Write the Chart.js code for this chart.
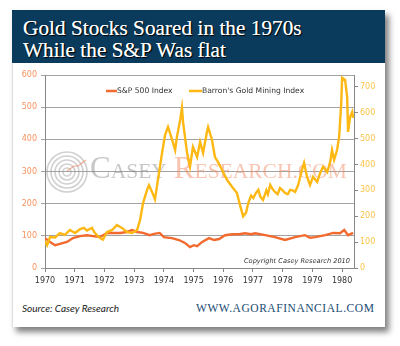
<!DOCTYPE html>
<html><head><meta charset="utf-8">
<script src="https://cdn.jsdelivr.net/npm/chart.js@4/dist/chart.umd.min.js"></script>
<style>
html,body{margin:0;padding:0;background:#fff;width:400px;height:346px;overflow:hidden}
#card{position:absolute;left:12px;top:10px;width:373px;height:317px;background:#fff;box-shadow:4px 5px 6px rgba(0,0,0,0.5);border-left:1px solid #ddd;box-sizing:border-box}
#banner{position:absolute;left:12px;top:10px;width:373px;height:53px;background:#0a3a5c}
.t{position:absolute;left:23px;font-family:"Liberation Serif",serif;font-size:21.3px;line-height:22px;color:#fff;text-shadow:1px 1px 1px #000,0 0 0.6px #fff;white-space:nowrap}
#src{position:absolute;left:22px;top:302px;line-height:12px;font-family:Lato,sans-serif;font-style:italic;font-size:10px;color:#222;white-space:nowrap}
#agora{position:absolute;left:196px;top:302px;line-height:13px;font-family:"Liberation Serif",serif;font-size:11.5px;letter-spacing:0.55px;color:#174a70;white-space:nowrap}
#wrap{position:absolute;left:12px;top:62px;width:373px;height:232px}
</style></head>
<body>
<div id="card"></div>
<div id="banner"></div>
<div class="t" style="top:17px">Gold Stocks Soared in the 1970s</div>
<div class="t" style="top:39px">While the S&amp;P Was flat</div>
<div id="wrap"><canvas id="c" width="373" height="232"></canvas></div>
<div id="src">Source: Casey Research</div>
<div id="agora">WWW.AGORAFINANCIAL.COM</div>
<script>
// Series labels
const seriesNames = ["S&P 500 Index", "Barron's Gold Mining Index"];
// S&P 500 Index (left axis)
const spYears = [1970.00,1970.17,1970.34,1970.50,1970.74,1970.94,1971.18,1971.41,1971.62,1971.85,1972.09,1972.29,1972.53,1972.76,1972.93,1973.10,1973.30,1973.53,1973.67,1973.86,1974.00,1974.27,1974.51,1974.71,1974.88,1975.01,1975.12,1975.29,1975.52,1975.69,1975.86,1976.06,1976.30,1976.53,1976.73,1976.94,1977.07,1977.41,1977.74,1978.08,1978.42,1978.75,1978.92,1979.09,1979.43,1979.70,1979.93,1980.07,1980.20,1980.37];
const spValues = [93,81,71,75,81,93,99,102,99,96,109,109,109,112,118,112,109,102,106,109,96,93,87,78,65,71,68,81,93,87,90,102,105,105,108,105,108,102,96,87,96,102,94,96,102,109,108,118,102,109];
// Barron's Gold Mining Index (right axis)
const goldYears = [1970.00,1970.07,1970.17,1970.34,1970.50,1970.67,1970.84,1971.01,1971.18,1971.31,1971.41,1971.58,1971.68,1971.85,1971.95,1972.02,1972.09,1972.26,1972.42,1972.59,1972.76,1972.93,1973.10,1973.20,1973.30,1973.43,1973.50,1973.60,1973.70,1973.80,1973.94,1974.04,1974.14,1974.28,1974.38,1974.44,1974.55,1974.61,1974.65,1974.78,1974.88,1974.98,1975.12,1975.22,1975.32,1975.45,1975.49,1975.62,1975.72,1975.82,1975.96,1976.13,1976.30,1976.46,1976.57,1976.67,1976.77,1976.84,1976.94,1977.01,1977.10,1977.18,1977.25,1977.34,1977.45,1977.50,1977.58,1977.66,1977.74,1977.83,1977.91,1978.00,1978.08,1978.17,1978.25,1978.34,1978.42,1978.52,1978.65,1978.72,1978.82,1978.92,1979.02,1979.16,1979.26,1979.36,1979.50,1979.60,1979.66,1979.73,1979.83,1979.90,1979.97,1980.00,1980.10,1980.17,1980.20,1980.27,1980.34,1980.37];
const goldValues = [105,88,120,118,135,128,147,135,150,155,145,155,135,116,110,125,139,147,166,155,139,135,147,186,251,300,320,295,265,340,445,514,545,495,456,507,572,619,561,445,391,468,429,487,445,526,545,495,429,410,379,340,313,290,240,200,215,251,280,270,290,302,275,263,300,285,321,305,294,285,309,300,290,285,302,300,294,321,379,406,352,321,352,333,367,391,371,410,456,418,456,507,638,735,727,661,526,584,603,580];
// Axis ticks
const yearTicks = [1970,1971,1972,1973,1974,1975,1976,1977,1978,1979,1980];
const leftTicks = [0,100,200,300,400,500,600];
const rightTicks = [0,100,200,300,400,500,600,700];

const spData = spYears.map((x,i)=>({x, y: spValues[i]}));
const goldData = goldYears.map((x,i)=>({x, y: goldValues[i]}));
const SP_COLOR = '#f26a2e', GOLD_COLOR = '#fdb813';

const decor = {
  id:'decor',
  beforeDatasetsDraw(chart){
    const ctx = chart.ctx, a = chart.chartArea;
    ctx.save();
    const cx = a.left + 22, cy = a.top + 97;
    ctx.strokeStyle = 'rgba(150,150,150,0.45)';
    ctx.lineWidth = 1.6;
    for (let r = 4; r <= 20; r += 4) { ctx.beginPath(); ctx.arc(cx, cy, r, 0, Math.PI*2); ctx.stroke(); }
    ctx.strokeStyle = 'rgba(240,120,80,0.6)'; ctx.lineWidth = 1.2;
    ctx.beginPath(); ctx.moveTo(cx, cy-1); ctx.lineTo(cx+7, cy-6); ctx.lineTo(cx+11, cy-6); ctx.lineTo(cx+19, cy-12); ctx.stroke();
    ctx.textBaseline = 'alphabetic';
    let x = a.left + 45; const base = a.top + 103;
    ctx.fillStyle = 'rgba(130,130,130,0.45)';
    ctx.font = '31px "Liberation Serif", serif';
    ctx.fillText('C', x, base); x += ctx.measureText('C').width;
    ctx.font = '21.5px "Liberation Serif", serif';
    ctx.fillText('ASEY', x, base); x += ctx.measureText('ASEY').width + 7;
    ctx.fillStyle = 'rgba(240,140,100,0.5)';
    ctx.font = '31px "Liberation Serif", serif';
    ctx.fillText('R', x, base); x += ctx.measureText('R').width;
    ctx.font = '21.5px "Liberation Serif", serif';
    ctx.fillText('ESEARCH.COM', x, base);
    ctx.restore();
  },
  afterDraw(chart){
    const ctx = chart.ctx, a = chart.chartArea;
    ctx.save();
    const ly = a.top + 16;
    ctx.font = '7.6px "DejaVu Sans", sans-serif';
    ctx.textBaseline = 'middle';
    ctx.lineWidth = 2.5;
    ctx.strokeStyle = SP_COLOR; ctx.beginPath(); ctx.moveTo(a.left+61, ly); ctx.lineTo(a.left+72, ly); ctx.stroke();
    ctx.fillStyle = '#333'; ctx.fillText(seriesNames[0], a.left+72, ly);
    ctx.strokeStyle = GOLD_COLOR; ctx.beginPath(); ctx.moveTo(a.left+144, ly); ctx.lineTo(a.left+157, ly); ctx.stroke();
    ctx.fillText(seriesNames[1], a.left+157, ly);
    ctx.font = 'italic 6.6px "DejaVu Sans", sans-serif';
    ctx.textBaseline = 'alphabetic';
    ctx.fillStyle = '#333';
    ctx.textAlign = 'right';
    ctx.fillText('Copyright Casey Research 2010', a.right - 4, a.bottom - 5);
    ctx.restore();
  }
};

new Chart(document.getElementById('c'), {
  type: 'line',
  data: { datasets: [
    { label: seriesNames[0], data: spData, borderColor: SP_COLOR, borderWidth: 2.4, pointRadius: 0, tension: 0, yAxisID: 'y', order: 1 },
    { label: seriesNames[1], data: goldData, borderColor: GOLD_COLOR, borderWidth: 2.4, pointRadius: 0, tension: 0, yAxisID: 'y1', order: 0 }
  ]},
  options: {
    responsive: false, animation: false,
    layout: { padding: { top: 13, left: 0, right: 0, bottom: 0 } },
    plugins: { legend: { display: false }, tooltip: { enabled: false } },
    scales: {
      x: {
        type: 'linear', min: 1970, max: 1980.4,
        afterBuildTicks: s => { s.ticks = yearTicks.map(v => ({ value: v })); },
        afterFit: s => { s.height = 26; },
        grid: { drawOnChartArea: false, drawTicks: true, tickLength: 4, color: '#888' },
        border: { color: '#888', width: 1 },
        ticks: { color: '#333', font: { family: 'DejaVu Sans', size: 8 }, padding: 4, maxRotation: 0, autoSkip: false, callback: v => String(v) }
      },
      y: {
        position: 'left', min: 0, max: 600,
        afterBuildTicks: s => { s.ticks = leftTicks.map(v => ({ value: v })); },
        afterFit: s => { s.width = 33; },
        grid: { color: '#a3a3a3', lineWidth: 1, tickLength: 4, drawTicks: true },
        border: { color: '#888', width: 1 },
        ticks: { color: '#f7925f', font: { family: 'DejaVu Sans', size: 8 }, padding: 4, callback: v => String(v) }
      },
      y1: {
        position: 'right', min: 0, max: 746,
        afterBuildTicks: s => { s.ticks = rightTicks.map(v => ({ value: v })); },
        afterFit: s => { s.width = 31; },
        grid: { drawOnChartArea: false, tickLength: 4, color: '#888' },
        border: { color: '#888', width: 1 },
        ticks: { color: '#fcc44a', font: { family: 'DejaVu Sans', size: 8 }, padding: 2, callback: v => String(v) }
      }
    }
  },
  plugins: [decor]
});
</script>
</body></html>
